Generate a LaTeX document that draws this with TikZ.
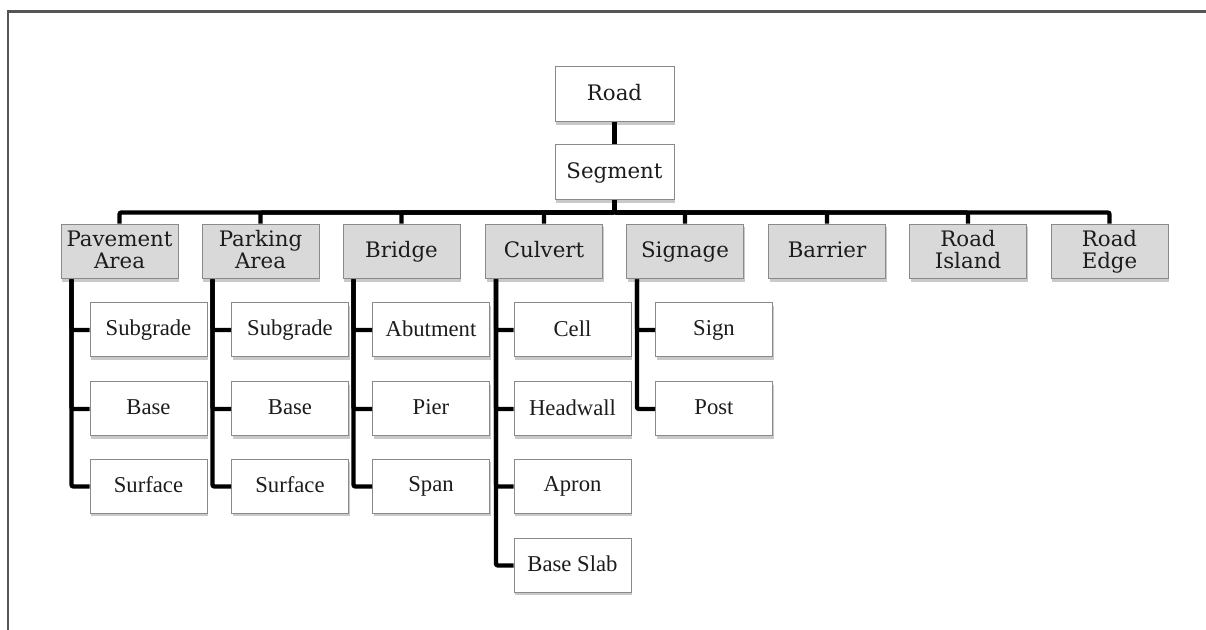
\documentclass[tikz,border=0pt]{standalone}
\usepackage{fontspec}
\newfontfamily\hdfont{DejaVu Serif}
\newfontfamily\chfont{Liberation Serif}
\usetikzlibrary{shadows,calc}
\definecolor{boxgray}{HTML}{8A8A8A}
\definecolor{grpfill}{HTML}{D9D9D9}
\definecolor{framegray}{HTML}{555555}
\definecolor{txt}{HTML}{1C1C1C}
\newcommand\boxstrut{\rule[-2.6pt]{0pt}{14pt}}
\tikzset{
  box/.style={draw=boxgray, line width=0.75pt, minimum width=87.75pt, minimum height=41pt,
    inner sep=0pt, align=center, text=txt,
    execute at begin node=\boxstrut, execute at end node=\boxstrut,
    drop shadow={shadow xshift=0.8pt, shadow yshift=-2.2pt, opacity=0.3, fill=black!70}},
  topbox/.style={box, fill=white, minimum width=89.25pt, minimum height=41.25pt,
    font=\hdfont\fontsize{16}{16.5}\selectfont},
  grpbox/.style={box, fill=grpfill, font=\hdfont\fontsize{16}{16.5}\selectfont},
  leaf/.style={box, fill=white, minimum height=40.5pt, font=\chfont\fontsize{17}{19}\selectfont},
  conn/.style={line width=3.3pt, black, rounded corners=1.5pt},
}
\begin{document}
\begin{tikzpicture}[x=0.75pt, y=-0.75pt]
\useasboundingbox (0,0) rectangle (1206,630);
\draw[framegray, line width=1.6pt] (8,630) -- (8,11.5) -- (1206,11.5);

% root
\node[topbox] (road) at (614.5,94.5) {Road};
\node[topbox] (seg) at (614.5,172.5) {Segment};

% level 1
\node[grpbox] (pav)  at (119.5,251.5) {Pavement\\Area};
\node[grpbox] (park) at (260.5,251.5) {Parking\\Area};
\node[grpbox] (brg)  at (401.5,251.5) {Bridge};
\node[grpbox] (culv) at (544,251.5) {Culvert};
\node[grpbox] (sgn)  at (685,251.5) {Signage};
\node[grpbox] (barr) at (827,251.5) {Barrier};
\node[grpbox] (isl)  at (968,251.5) {Road\\Island};
\node[grpbox] (edge) at (1109.5,251.5) {Road\\Edge};

% leaves
\node[leaf] (pav1) at (148.5,330) {Subgrade};
\node[leaf] (pav2) at (148.5,409) {Base};
\node[leaf] (pav3) at (148.5,486.5) {Surface};
\node[leaf] (park1) at (290,330) {Subgrade};
\node[leaf] (park2) at (290,409) {Base};
\node[leaf] (park3) at (290,486.5) {Surface};
\node[leaf] (brg1) at (431,330) {Abutment};
\node[leaf] (brg2) at (431,409) {Pier};
\node[leaf] (brg3) at (431,486.5) {Span};
\node[leaf] (culv1) at (572.5,330) {Cell};
\node[leaf] (culv2) at (572.5,409) {Headwall};
\node[leaf] (culv3) at (572.5,486.5) {Apron};
\node[leaf] (culv4) at (572.5,565.5) {Base Slab};
\node[leaf] (sgn1) at (714,330) {Sign};
\node[leaf] (sgn2) at (714,409) {Post};

% connectors
\draw[conn] (road) -- (seg);
\foreach \n in {pav,park,brg,culv,sgn,barr,isl,edge}
  \draw[conn] (seg.south) -- ++(0,12) -| (\n.north);
\foreach \p/\c in {pav/pav1,pav/pav2,pav/pav3,park/park1,park/park2,park/park3,
                   brg/brg1,brg/brg2,brg/brg3,culv/culv1,culv/culv2,culv/culv3,culv/culv4,
                   sgn/sgn1,sgn/sgn2}
  \draw[conn] ([xshift=8.25pt]\p.south west) |- (\c.west);
\end{tikzpicture}
\end{document}
